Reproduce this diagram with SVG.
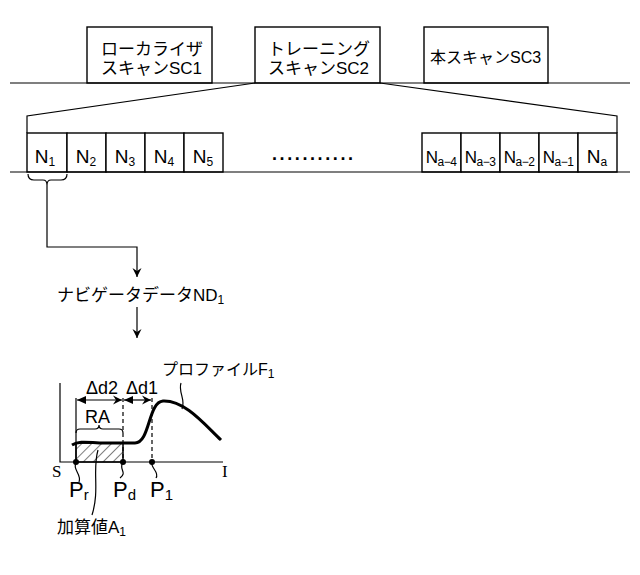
<svg xmlns="http://www.w3.org/2000/svg" width="640" height="575" viewBox="0 0 640 575">
<defs>
<marker id="ah" markerWidth="10" markerHeight="12" refX="9" refY="5" orient="auto" markerUnits="userSpaceOnUse"><path d="M0,0.5 L9,5 L0,9.5 L3,5 Z" fill="#000"/></marker>
<marker id="as" markerWidth="10" markerHeight="10" refX="1" refY="5" orient="auto" markerUnits="userSpaceOnUse"><path d="M10,1 L1,5 L10,9 Z" fill="#000"/></marker>
<pattern id="hatch" width="7" height="7" patternUnits="userSpaceOnUse" patternTransform="rotate(45)"><line x1="0" y1="0" x2="0" y2="7" stroke="#000" stroke-width="1"/></pattern>
</defs>
<style>
text{font-family:"Liberation Sans","Noto Sans CJK JP",sans-serif;font-size:17px;fill:#000}
.t{font-size:17px}
.b{fill:#fff;stroke:#000;stroke-width:1.4}
.l{fill:none;stroke:#000;stroke-width:1.2}
.n{font-size:19px;text-anchor:middle}
.s{font-size:12px}
.m{font-size:17px;text-anchor:middle;letter-spacing:-0.5px}
.ms{font-size:12px}
</style>
<rect width="640" height="575" fill="#fff"/>
<g id="scans">
<g id="sc1"><rect class="b" x="87" y="27" width="125" height="56"/><text class="t" x="101" y="55">ローカライザ</text><text class="t" x="101" y="74">スキャンSC1</text></g>
<g id="sc2"><rect class="b" x="255" y="27" width="125" height="56"/><text class="t" x="268" y="55">トレーニング</text><text class="t" x="268" y="74">スキャンSC2</text></g>
<g id="sc3"><rect class="b" x="424" y="27" width="124" height="56"/><text x="430" y="63" style="font-size:16px">本スキャンSC3</text></g>
</g>
<g id="navs">
<rect class="b" x="27" y="133" width="40" height="39"/><text class="n" x="45" y="163">N<tspan class="s" dy="3">1</tspan></text>
<rect class="b" x="67" y="133" width="39" height="39"/><text class="n" x="86" y="163">N<tspan class="s" dy="3">2</tspan></text>
<rect class="b" x="106" y="133" width="39" height="39"/><text class="n" x="125" y="163">N<tspan class="s" dy="3">3</tspan></text>
<rect class="b" x="145" y="133" width="39" height="39"/><text class="n" x="164" y="163">N<tspan class="s" dy="3">4</tspan></text>
<rect class="b" x="184" y="133" width="39" height="39"/><text class="n" x="203" y="163">N<tspan class="s" dy="3">5</tspan></text>
<text x="272" y="160" style="font-size:18px;font-weight:bold;letter-spacing:2.6px">...........</text>
<rect class="b" x="422" y="133" width="39" height="39"/><text class="m" x="441" y="163">N<tspan class="ms" dy="3">a−4</tspan></text>
<rect class="b" x="461" y="133" width="39" height="39"/><text class="m" x="480" y="163">N<tspan class="ms" dy="3">a−3</tspan></text>
<rect class="b" x="500" y="133" width="39" height="39"/><text class="m" x="519" y="163">N<tspan class="ms" dy="3">a−2</tspan></text>
<rect class="b" x="539" y="133" width="39" height="39"/><text class="m" x="558" y="163">N<tspan class="ms" dy="3">a−1</tspan></text>
<rect class="b" x="578" y="133" width="39" height="39"/><text class="n" x="597" y="163">N<tspan class="s" dy="3">a</tspan></text>
</g>
<g id="connectors">
<line class="l" x1="10" y1="83" x2="630" y2="83"/>
<line class="l" x1="10" y1="172" x2="630" y2="172"/>
<polyline class="l" points="27,133 27,116 255,83"/>
<polyline class="l" points="617,133 617,116 380,83"/>
<path class="l" d="M28,174 Q28,180 34,180 L43,180 Q47,180 47,185 Q47,180 51,180 L61,180 Q67,180 67,174"/>
<polyline class="l" points="47,185 47,247 137,247 137,277" marker-end="url(#ah)"/>
<line class="l" x1="137" y1="307" x2="137" y2="338" marker-end="url(#ah)"/>
</g>
<g id="nd1"><text x="57" y="301">ナビゲータデータND<tspan class="s" dy="3">1</tspan></text></g>
<g id="graph">
<rect x="76" y="443" width="47" height="19" fill="url(#hatch)" stroke="#000" stroke-width="1.5"/>
<polyline class="l" points="60,383 60,462 223,462"/>
<line class="l" x1="76" y1="398" x2="76" y2="462"/>
<line class="l" x1="123" y1="398" x2="123" y2="462" stroke-dasharray="4,3"/>
<line class="l" x1="152" y1="398" x2="152" y2="462" stroke-dasharray="4,3"/>
<line class="l" x1="77" y1="400" x2="122" y2="400" marker-start="url(#as)" marker-end="url(#ah)"/>
<line class="l" x1="124" y1="400" x2="151" y2="400" marker-start="url(#as)" marker-end="url(#ah)"/>
<path class="l" d="M76,433 Q76,429 80,429 L95,429 Q99,429 99,425 Q99,429 103,429 L119,429 Q123,429 123,433"/>
<path d="M72,445 C80,440 90,443 105,443 L135,443 C150,443 148,402 163,401 C185,400 205,425 221,440" fill="none" stroke="#000" stroke-width="3"/>
<circle cx="76" cy="462" r="3"/><circle cx="123" cy="462" r="3"/><circle cx="152" cy="462" r="3"/>
<path class="l" d="M181,383 C178,392 186,400 182,409"/>
<path class="l" d="M76,462 C72,470 82,474 79,482"/>
<path class="l" d="M123,462 C118,470 128,472 120,478"/>
<path class="l" d="M152,462 C150,468 160,472 156,478"/>
<path class="l" d="M98,450 C92,470 100,490 92,515"/>
<text x="86" y="394" style="font-size:18px">Δd2</text><text x="126" y="394" style="font-size:18px">Δd1</text>
<text x="85" y="423" style="font-size:18px">RA</text>
<text x="162" y="375" style="font-size:16px">プロファイルF<tspan class="s" dy="3">1</tspan></text>
<text x="52" y="477" style="font-family:'Liberation Serif',serif;font-size:17px">S</text>
<text x="222" y="477" style="font-family:'Liberation Serif',serif;font-size:17px">I</text>
<text x="69" y="497" style="font-size:22px">P<tspan style="font-size:15px" dy="3">r</tspan></text>
<text x="113" y="497" style="font-size:22px">P<tspan style="font-size:15px" dy="3">d</tspan></text>
<text x="150" y="497" style="font-size:22px">P<tspan style="font-size:15px" dy="3">1</tspan></text>
<text x="57" y="533">加算値A<tspan class="s" dy="3">1</tspan></text>
</g>
</svg>
